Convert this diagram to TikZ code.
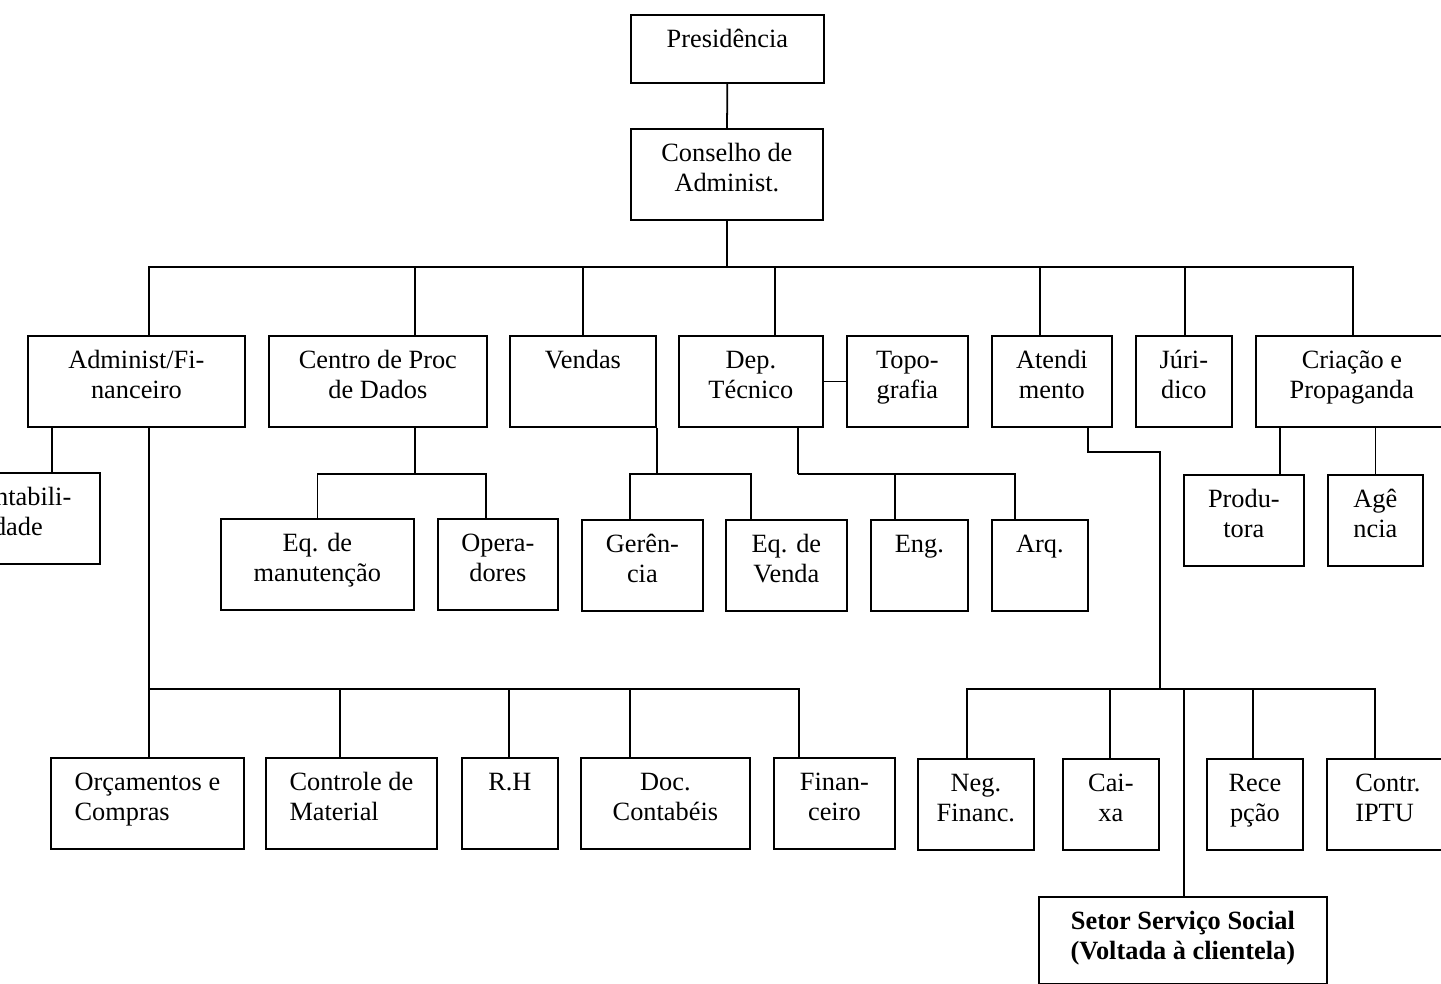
\documentclass[tikz,border=0pt]{standalone}
\usepackage{fontspec}
\setmainfont{Liberation Serif}
\newdimen\px \px=0.02cm
\newcommand{\boxlines}[2][c]{\begin{tabular}[t]{@{}#1@{}}#2\end{tabular}}

\begin{document}
\begin{tikzpicture}[
    x=1\px, y=-1\px,
    every node/.style={font=\fontsize{15pt}{17pt}\selectfont},
    unit/.style={draw,line width=1pt,anchor=north west,inner sep=0pt,text height=33\px,text depth=58\px},
    link/.style={line width=1pt},
]
\useasboundingbox (0,0) rectangle (1441,984);

% top
\node[unit,minimum width=193\px,text depth=35\px] (pres) at (630,14) {Presidência};
\node[unit,minimum width=192\px] (cons) at (630,128) {\boxlines{Conselho de\\Administ.}};

% first level
\node[unit,minimum width=217\px] (admfin)  at (27,335)   {\boxlines{Administ/Fi-\\nanceiro}};
\node[unit,minimum width=218\px] (cpd)     at (268,335)  {\boxlines{Centro de Proc\\de Dados}};
\node[unit,minimum width=146\px] (vendas)  at (509,335)  {Vendas};
\node[unit,minimum width=144\px] (deptec)  at (678,335)  {\boxlines{Dep.\\Técnico}};
\node[unit,minimum width=121\px] (topo)    at (846,335)  {\boxlines{Topo-\\grafia}};
\node[unit,minimum width=120\px] (atend)   at (991,335)  {\boxlines{Atendi\\mento}};
\node[unit,minimum width=96\px]  (jur)     at (1135,335) {\boxlines{Júri-\\dico}};
\node[unit,minimum width=192\px] (criacao) at (1255,335) {\boxlines{Criação e\\Propaganda}};

% second level
\node[unit,minimum width=164\px] (contab) at (-65,472)  {\boxlines{Contabili-\\dade}};
\node[unit,minimum width=193\px] (eqman)  at (220,518)  {\boxlines{Eq. de\\manutenção}};
\node[unit,minimum width=120\px] (oper)   at (437,518)  {\boxlines{Opera-\\dores}};
\node[unit,minimum width=121\px] (ger)    at (581,519)  {\boxlines{Gerên-\\cia}};
\node[unit,minimum width=121\px] (eqv)    at (725,519)  {\boxlines{Eq. de\\Venda}};
\node[unit,minimum width=97\px]  (eng)    at (870,519)  {Eng.};
\node[unit,minimum width=96\px]  (arq)    at (991,519)  {Arq.};
\node[unit,minimum width=120\px] (prod)   at (1183,474) {\boxlines{Produ-\\tora}};
\node[unit,minimum width=95\px]  (agen)   at (1327,474) {\boxlines{Agê\\ncia}};

% third level
\node[unit,minimum width=193\px] (orc)   at (50,757)   {\boxlines[l]{Orçamentos e\\Compras}};
\node[unit,minimum width=171\px] (ctrl)  at (265,757)  {\boxlines[l]{Controle de\\Material}};
\node[unit,minimum width=96\px]  (rh)    at (461,757)  {R.H};
\node[unit,minimum width=169\px] (doc)   at (580,757)  {\boxlines{Doc.\\Contabéis}};
\node[unit,minimum width=121\px] (fin)   at (773,757)  {\boxlines{Finan-\\ceiro}};
\node[unit,minimum width=116\px] (negf)  at (917,758)  {\boxlines{Neg.\\Financ.}};
\node[unit,minimum width=96\px]  (caixa) at (1062,758) {\boxlines{Cai-\\xa}};
\node[unit,minimum width=96\px]  (recep) at (1206,758) {\boxlines{Rece\\pção}};
\node[unit,minimum width=122\px] (iptu)  at (1326,758) {\boxlines[l]{Contr.\\IPTU}};
\node[unit,minimum width=288\px,text depth=54\px] (setor) at (1038,896) {\bfseries\boxlines{Setor Serviço Social\\(Voltada à clientela)}};

% connectors
\draw[link] (pres) -- (cons);
\draw[link] (cons.south) -- ++(0,46) coordinate (bus1);
\foreach \dep/\dx in {admfin/12.5, cpd/37, vendas/0, deptec/24, atend/-12, jur/1, criacao/1}
  \draw[link] (bus1) -| ([xshift=\dx\px]\dep.north);

\draw[link] ([xshift=34\px]contab.north) -- ([xshift=34\px]contab.north |- admfin.south);
\draw[link] ([xshift=12.5\px]admfin.south) -- ++(0,261) coordinate (bus2);
\foreach \sub/\dx in {orc/1.5, ctrl/-11.5, rh/-1, doc/-35.5, fin/-35.5}
  \draw[link] (bus2) -| ([xshift=\dx\px]\sub.north);

\draw[link] ([xshift=37\px]cpd.south) -- ++(0,46) coordinate (bus3);
\foreach \sub/\dx in {eqman/0, oper/-12}
  \draw[link] (bus3) -| ([xshift=\dx\px]\sub.north);

\draw[link] (vendas.south east) -- ++(0,46) coordinate (bus4);
\foreach \sub/\dx in {ger/-12.5, eqv/-35.5}
  \draw[link] (bus4) -| ([xshift=\dx\px]\sub.north);

\draw[link] (deptec) -- (topo);
\draw[link] ([xshift=47\px]deptec.south) -- ++(0,46) coordinate (bus5);
\foreach \sub/\dx in {eng/-24.5, arq/-25}
  \draw[link] (bus5) -| ([xshift=\dx\px]\sub.north);

\draw[link] ([xshift=36\px]atend.south) |- ++(72,24) -- ++(0,237) coordinate (bus6);
\foreach \sub/\dx in {negf/-9, caixa/-1, setor/1, recep/-2, iptu/-13}
  \draw[link] (bus6) -| ([xshift=\dx\px]\sub.north);

\draw[link] ([xshift=36\px]prod.north) -- ([xshift=36\px]prod.north |- criacao.south);
\draw[link] (agen.north) -- (agen.north |- criacao.south);
\end{tikzpicture}
\end{document}
